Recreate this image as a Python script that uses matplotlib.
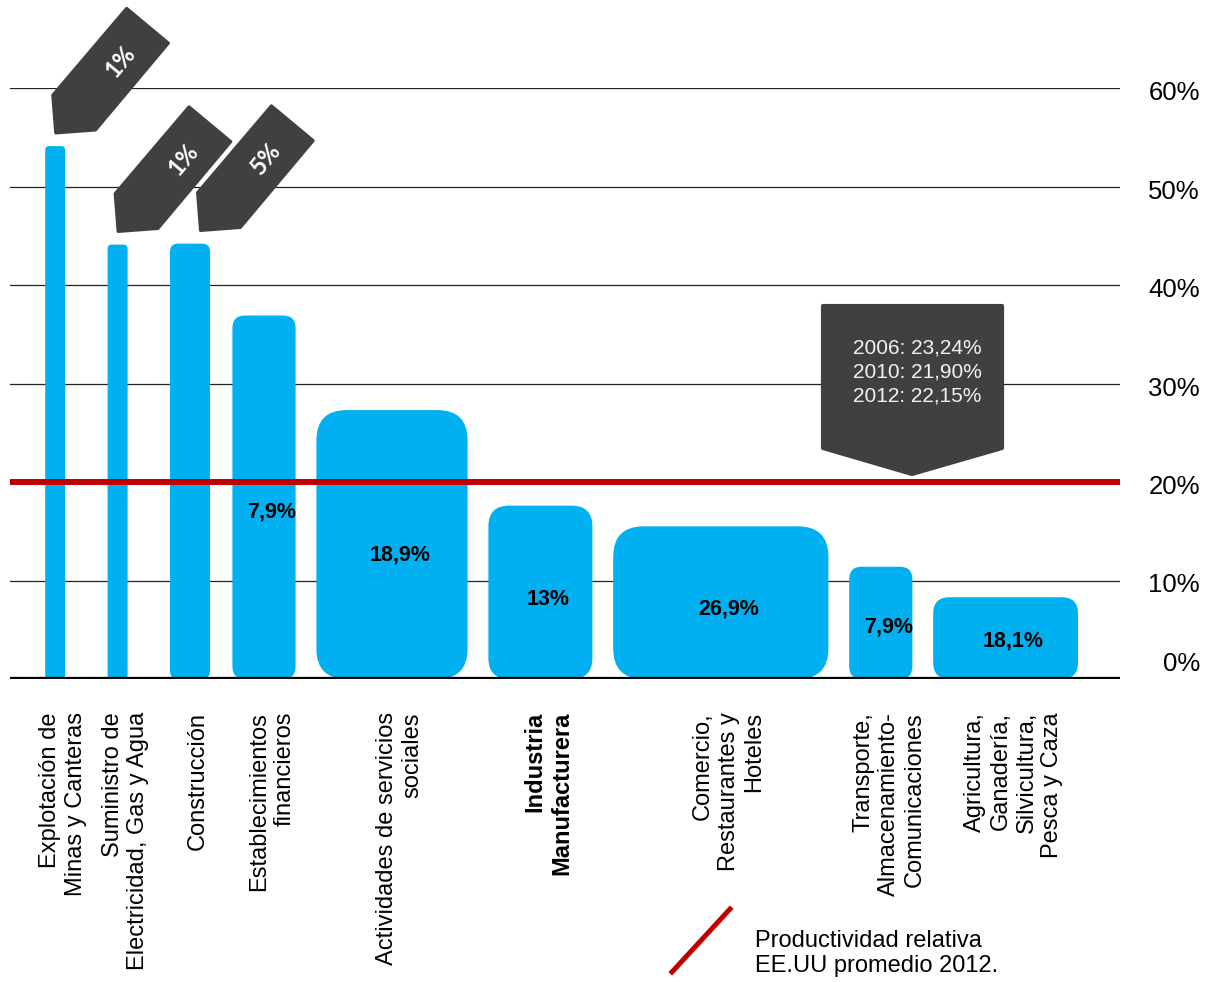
import numpy as np
import matplotlib.pyplot as plt
from matplotlib.patches import FancyBboxPatch, Polygon
from matplotlib.lines import Line2D

plt.rcParams['font.family'] = ['Liberation Sans', 'DejaVu Sans']

# Sectores, participación en el empleo (ancho) y productividad relativa (alto)
sectores = [
    'Explotación de\nMinas y Canteras',
    'Suministro de\nElectricidad, Gas y Agua',
    'Construcción',
    'Establecimientos\nfinancieros',
    'Actividades de servicios\nsociales',
    'Industria\nManufacturera',
    'Comercio,\nRestaurantes y\nHoteles',
    'Transporte,\nAlmacenamiento-\nComunicaciones',
    'Agricultura,\nGanadería,\nSilvicultura,\nPesca y Caza',
]
participacion = [1, 1, 5, 7.9, 18.9, 13, 26.9, 7.9, 18.1]
etiquetas_part = ['1%', '1%', '5%', '7,9%', '18,9%', '13%', '26,9%', '7,9%', '18,1%']
productividad = [54.1, 44.1, 44.2, 36.9, 27.3, 17.6, 15.5, 11.4, 8.3]
promedio_eeuu = 20
historico = ['2006: 23,24%', '2010: 21,90%', '2012: 22,15%']
marcas_y = [0, 10, 20, 30, 40, 50, 60]

AZUL = '#00B0F0'
ROJO = '#C00000'
GRIS = '#404040'

W, H = 1212, 982
fig = plt.figure(figsize=(W / 100, H / 100), dpi=100)
ax = fig.add_axes([10 / W, (H - 679) / H, 1110 / W, (679 - 88) / H])
xmax = 138.75
ax.set_xlim(0, xmax)
ax.set_ylim(0, 60)
ax.axis('off')

# pixeles por unidad en cada eje
kx = 1110 / xmax
ky = (679 - 88) / 60

# grilla, linea de referencia y base
for v in marcas_y[1:]:
    if v != promedio_eeuu:
        ax.axhline(v, color='#222222', lw=0.9, zorder=1)
ax.axhline(promedio_eeuu, color=ROJO, lw=4.3, zorder=3)
ax.axhline(0, color='black', lw=3.8, zorder=4)

for v in marcas_y:
    dy = -5 if v else 15
    ax.annotate(f'{v}%', xy=(1.0721, v), xycoords=('axes fraction', 'data'),
                xytext=(0, dy * 0.72), textcoords='offset points',
                ha='right', va='center', fontsize=18.5, annotation_clip=False)

# barras de ancho variable con esquinas redondeadas;
# las barras angostas ocupan un espacio minimo
anchos = np.maximum(participacion, 2.5)
hueco = np.maximum(participacion, 5.2) + 2.6
izq = 4.4 + np.concatenate([[0], np.cumsum(hueco[:-1])])

# forma de la flecha inclinada (px, relativa a la punta)
flecha = np.array([(0, 0), (40, 3), (113, 90), (71, 125), (-3, 38)], dtype=float)

for i, (x, w, h) in enumerate(zip(izq, anchos, productividad)):
    r_px = 0.2 * min(w * kx, h * ky)
    caja = FancyBboxPatch((x, 0), w, h,
                          boxstyle=f'round,pad=0,rounding_size={r_px / kx}',
                          mutation_aspect=kx / ky, fc=AZUL, ec='none', zorder=2)
    ax.add_patch(caja)

    if participacion[i] < 6:
        px, py = x + w - 1.2, h + 13 / ky
        verts = np.column_stack([px + flecha[:, 0] / kx, py + flecha[:, 1] / ky])
        ax.add_patch(Polygon(verts, closed=True, fc=GRIS, ec=GRIS, lw=2,
                             joinstyle='round', zorder=6, clip_on=False))
        ax.text(px + 65 / kx, py + 72 / ky, etiquetas_part[i], rotation=50,
                ha='center', va='center', color='white', fontsize=17,
                fontweight='bold', family=['Lato', 'DejaVu Sans'], zorder=7,
                rotation_mode='anchor')
    else:
        ax.text(x + w / 2 + 1, 0.46 * h, etiquetas_part[i], ha='center', va='center',
                fontsize=15.5, fontweight='bold', zorder=5)

    ax.annotate(sectores[i], xy=(x + w / 2 + 1, 0), xytext=(0, -33 * 0.72),
                textcoords='offset points', rotation=90, ha='center', va='top',
                multialignment='right', linespacing=1.22, fontsize=17,
                fontweight='bold' if i == 5 else 'normal', annotation_clip=False)

# recuadro con la serie historica sobre la linea roja
tx, ty = (912 - 10) / kx, promedio_eeuu + 8 / ky
caja_hist = np.array([(0, 0), (90, 26), (90, 168), (-89, 168), (-89, 26)], dtype=float)
verts = np.column_stack([tx + caja_hist[:, 0] / kx, ty + caja_hist[:, 1] / ky])
ax.add_patch(Polygon(verts, closed=True, fc=GRIS, ec=GRIS, lw=3,
                     joinstyle='round', zorder=6, clip_on=False))
ax.text(tx + 5 / kx, ty + 102 / ky, '\n'.join(historico), ha='center', va='center',
        color='#F2F2F2', fontsize=15, linespacing=1.34, zorder=7)

# leyenda
fig.add_artist(Line2D([672 / W, 730 / W], [1 - 972 / H, 1 - 909 / H], color=ROJO, lw=3.6))
fig.text(755 / W, 1 - 953.5 / H, 'Productividad relativa\nEE.UU promedio 2012.',
         ha='left', va='center', fontsize=17, linespacing=1.18)

fig.savefig('out.png', dpi=100, facecolor='white')
